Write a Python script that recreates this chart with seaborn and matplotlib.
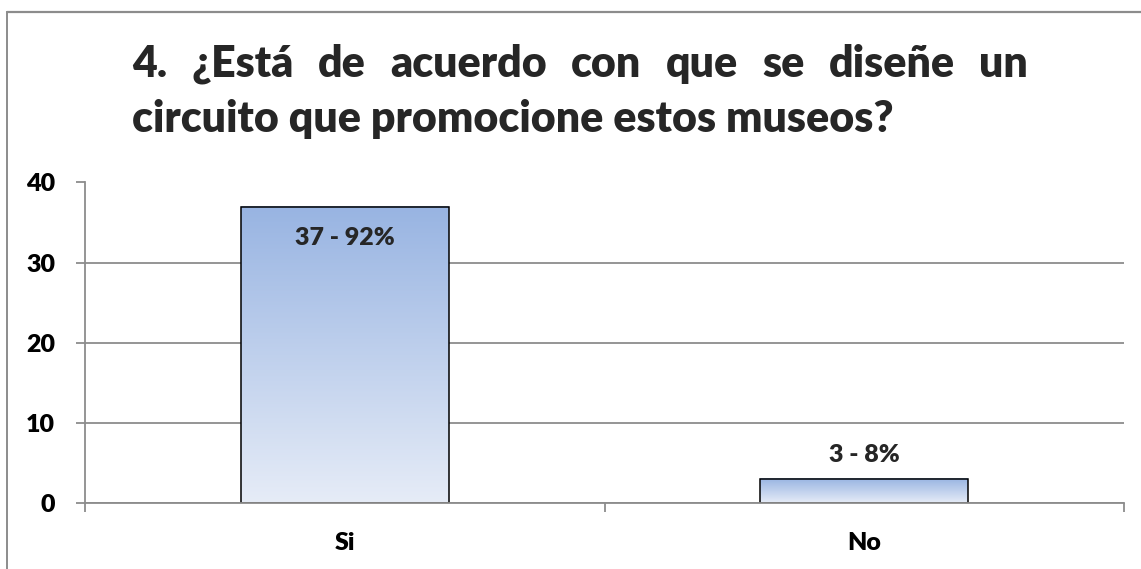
import numpy as np
import pandas as pd
import matplotlib
matplotlib.use("Agg")
import matplotlib.pyplot as plt
import seaborn as sns
from matplotlib import font_manager
from matplotlib.lines import Line2D
from matplotlib.colors import LinearSegmentedColormap

# ---- data ----
categories = ["Si", "No"]
counts = [37, 3]
percents = [92, 8]
title_lines = ["4. ¿Está de acuerdo con que se diseñe un",
               "circuito que promocione estos museos?"]
y_ticks = [0, 10, 20, 30, 40]

sns.set_theme(style="ticks")
names = {f.name for f in font_manager.fontManager.ttflist}
FONT = "Liberation Sans Narrow" if "Liberation Sans Narrow" in names else "Lato"
plt.rcParams["font.family"] = [FONT, "DejaVu Sans"]
WT = "heavy"

W, H = 1141, 569
GRAY = "#8c8c8c"
LS = 18
fig = plt.figure(figsize=(W / 100, H / 100), dpi=100)
fig.patch.set_facecolor("white")
ax = fig.add_axes([85 / W, 1 - 503 / H, (1124 - 85) / W, (503 - 182.5) / H])

df = pd.DataFrame({"cat": categories, "n": counts})
sns.barplot(data=df, x="cat", y="n", ax=ax, width=0.4, color="#9bb7e3",
            saturation=1, edgecolor="black", linewidth=1.1, zorder=2)

# gradient fills
cmap = LinearSegmentedColormap.from_list("g", ["#e6ecf7", "#98b4e2"])
grad = np.linspace(0, 1, 256).reshape(-1, 1)
for p in ax.patches:
    x0, w, h = p.get_x(), p.get_width(), p.get_height()
    ax.imshow(grad, extent=[x0, x0 + w, 0, h], origin="lower", cmap=cmap,
              aspect="auto", zorder=1.5, interpolation="bilinear")
    p.set_facecolor("none")

ax.set_xlim(-0.5, 1.5)
ax.set_ylim(0, 40)
ax.set_aspect("auto")

# grid / spines
ax.set_axisbelow(True)
ax.yaxis.grid(True, color=GRAY, lw=1.3)
ax.xaxis.grid(False)
for s in ["top", "right"]:
    ax.spines[s].set_visible(False)
for s in ["left", "bottom"]:
    ax.spines[s].set_color(GRAY)
    ax.spines[s].set_linewidth(1.3)

ax.set_yticks(y_ticks)
ax.set_yticklabels([str(v) for v in y_ticks])
ax.tick_params(axis="y", length=6.5, width=1.3, color=GRAY, pad=15,
               labelsize=LS, left=True)
ax.set_xticks(range(len(categories)))
ax.set_xticklabels(categories)
ax.set_xticks([-0.5, 0.5, 1.5], minor=True)
ax.tick_params(axis="x", which="major", length=0, pad=21, labelsize=LS)
ax.tick_params(axis="x", which="minor", length=6.5, width=1.3, color=GRAY,
               bottom=True)
for lab in ax.get_xticklabels() + ax.get_yticklabels():
    lab.set_fontweight(WT)
    lab.set_color("black")
ax.set_xlabel("")
ax.set_ylabel("")

# data labels
ymax = ax.get_ylim()[1]
for p, n, pc in zip(ax.patches, counts, percents):
    cx = p.get_x() + p.get_width() / 2
    h = p.get_height()
    if h > 0.8 * ymax:
        ax.annotate(f"{n} - {pc}%", (cx, h), xytext=(0, -14.5), textcoords="offset points",
                    ha="center", va="top", fontsize=LS, fontweight=WT, zorder=5)
    else:
        ax.annotate(f"{n} - {pc}%", (cx, h), xytext=(0, 9), textcoords="offset points",
                    ha="center", va="bottom", fontsize=LS, fontweight=WT, zorder=5)

# title, justified first line
renderer = fig.canvas.get_renderer()
left_px, right_px = 132, 1028
t = fig.text(0, 0, title_lines[1], fontsize=100, fontweight=WT)
bw = t.get_window_extent(renderer).width
t.remove()
tsize = 100 * (892 - left_px) / bw

fig.text(left_px / W, 1 - 132 / H, title_lines[1], fontsize=tsize,
         fontweight=WT, va="baseline", ha="left")
words = title_lines[0].split(" ")
widths = []
for wd in words:
    tt = fig.text(0, 0, wd, fontsize=tsize, fontweight=WT)
    widths.append(tt.get_window_extent(renderer).width)
    tt.remove()
gap = ((right_px - left_px) - sum(widths)) / (len(words) - 1)
x = left_px
for wd, wdt in zip(words, widths):
    fig.text(x / W, 1 - 77 / H, wd, fontsize=tsize, fontweight=WT,
             va="baseline", ha="left")
    x += wdt + gap

# chart-area border
fig.add_artist(Line2D([7 / W, 1], [1 - 12 / H, 1 - 12 / H], transform=fig.transFigure,
                      color=GRAY, lw=1.6))
fig.add_artist(Line2D([7 / W, 7 / W], [0, 1 - 12 / H], transform=fig.transFigure,
                      color=GRAY, lw=1.4))

fig.savefig("out.png", dpi=100)
